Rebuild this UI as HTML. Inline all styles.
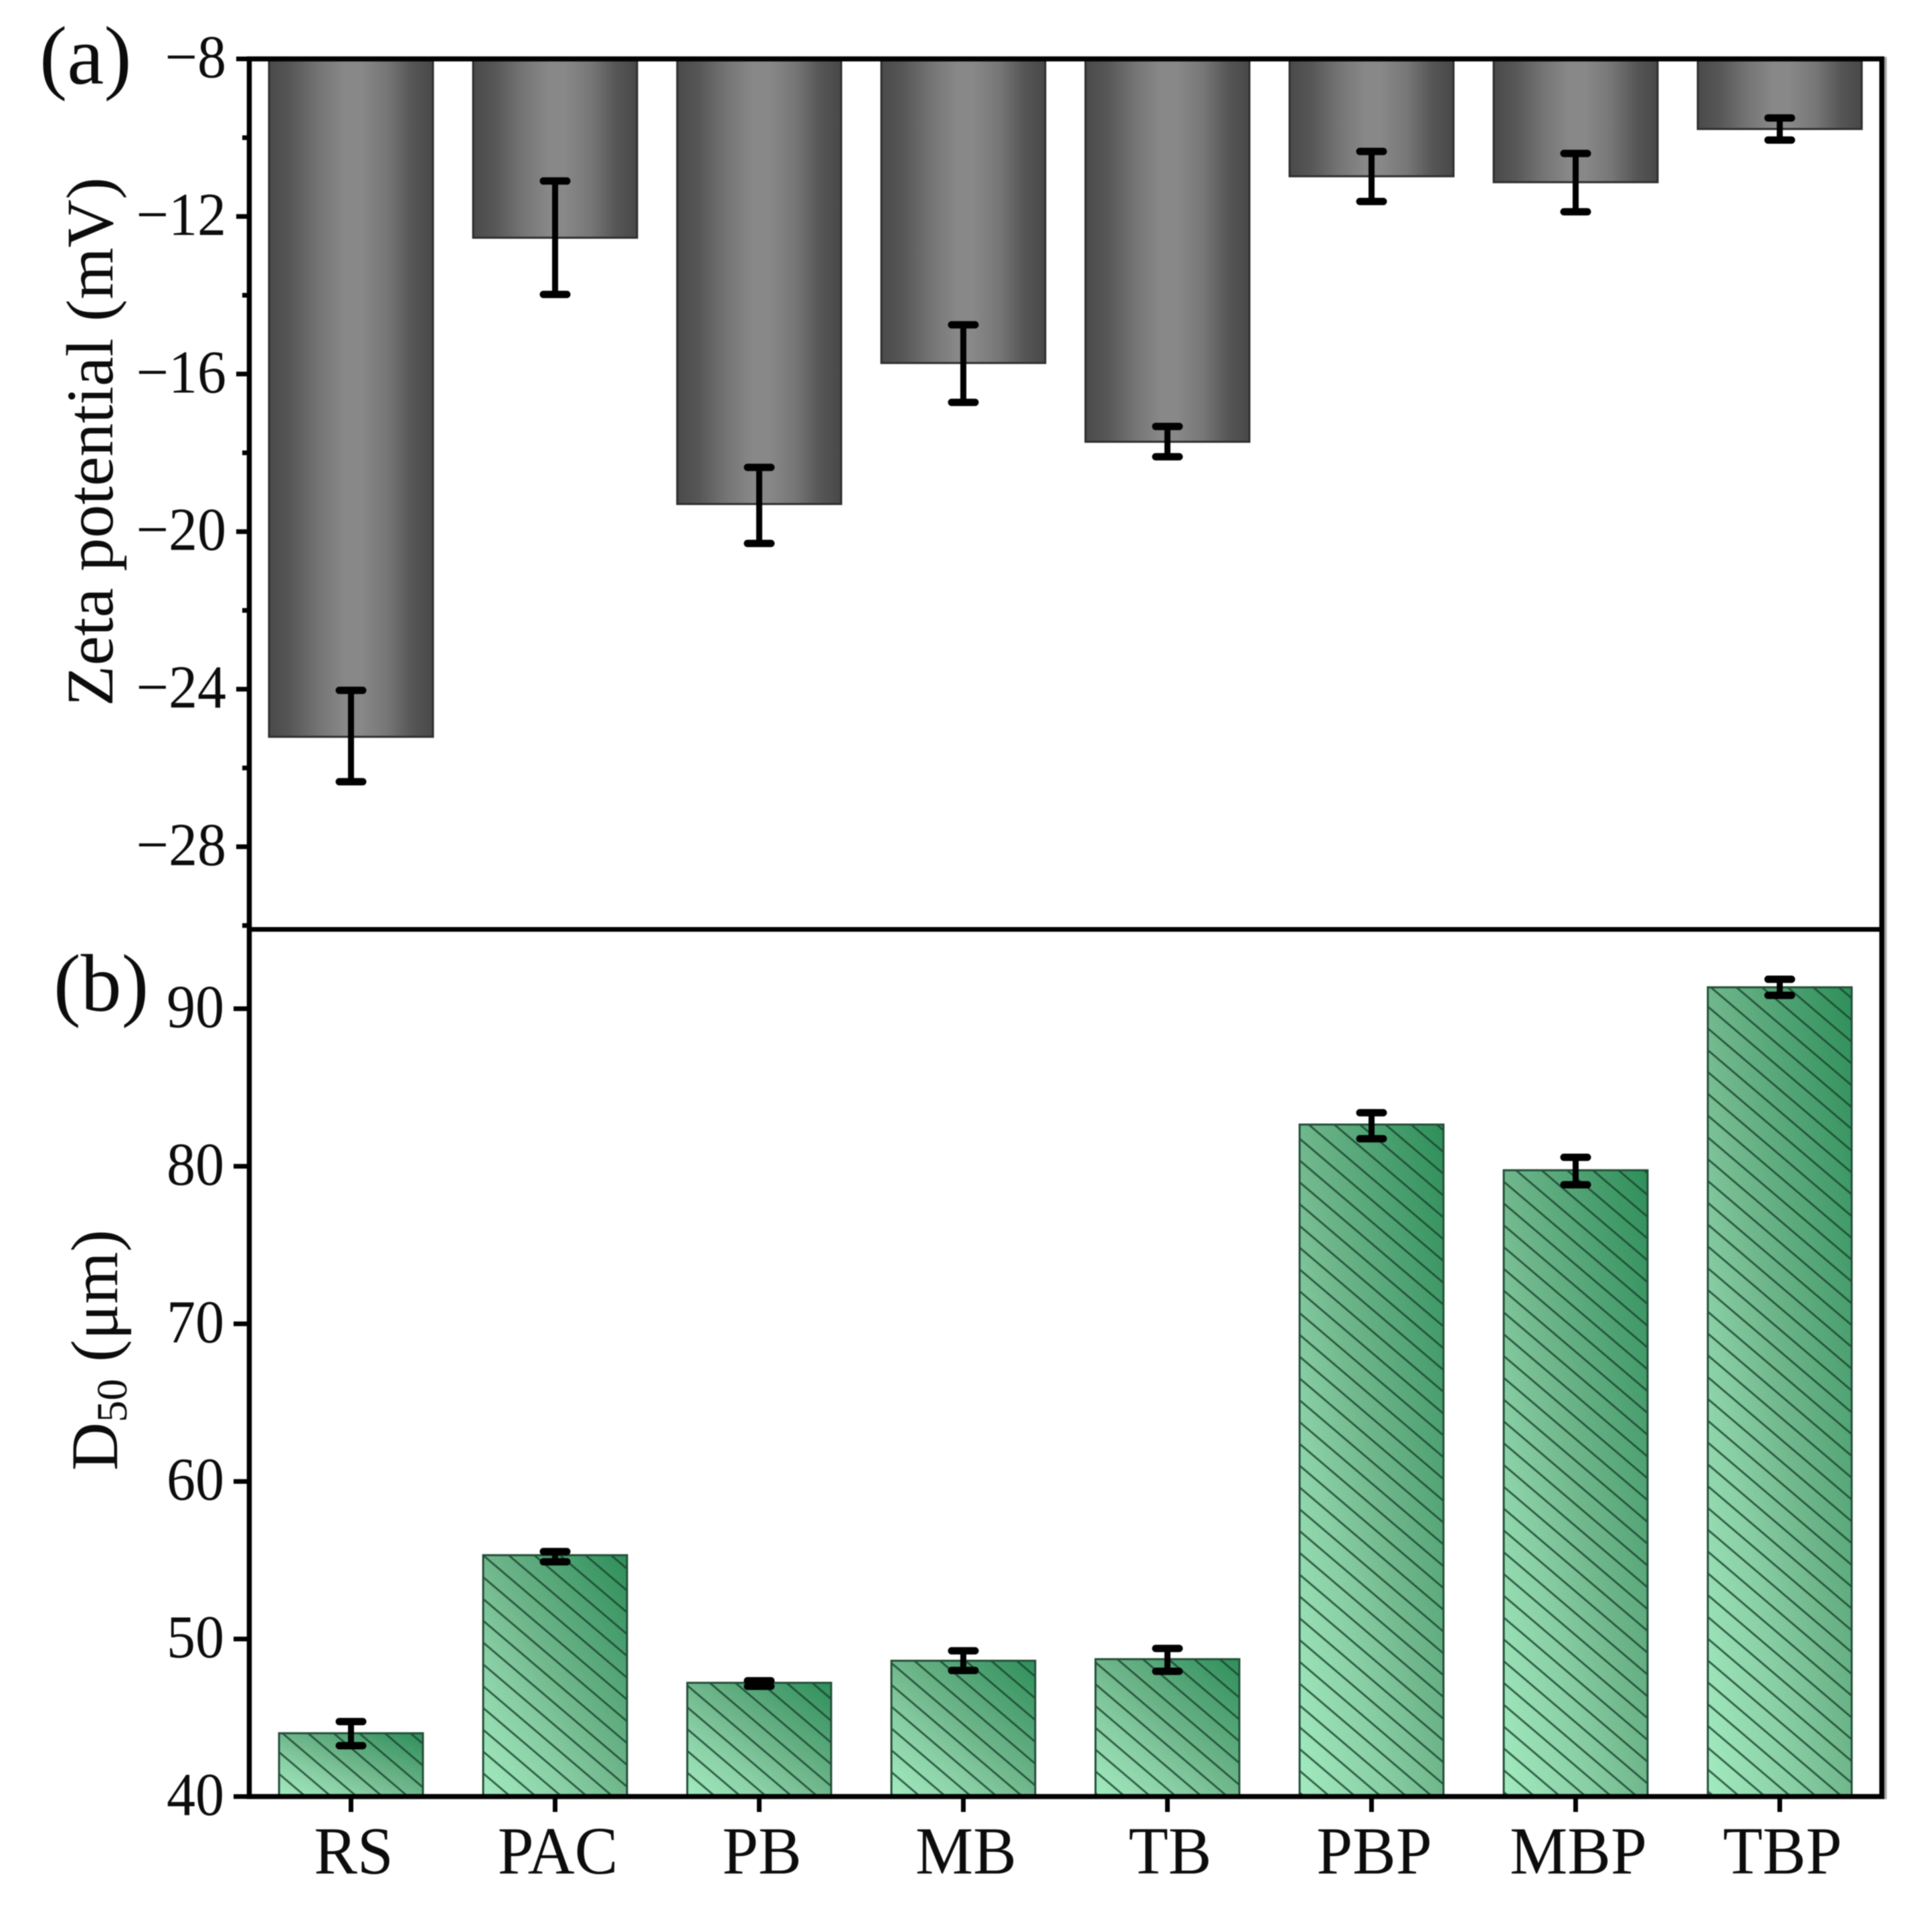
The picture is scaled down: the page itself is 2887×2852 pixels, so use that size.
<!DOCTYPE html>
<html lang="en">
<head>
<meta charset="utf-8">
<title>Zeta potential and D50 bar charts</title>
<style>
html,body{margin:0;padding:0;background:#fff;}
body{width:2887px;height:2852px;overflow:hidden;}
svg{display:block;filter:blur(0.7px);}
text{font-family:"Liberation Serif","Times New Roman",serif;fill:#0c0c0c;}
</style>
</head>
<body>
<svg id="chart" xmlns="http://www.w3.org/2000/svg" width="2887" height="2852" viewBox="0 0 2887 2852">
  <defs>
    <linearGradient id="grayGrad" x1="0" y1="0" x2="1" y2="0">
      <stop offset="0" stop-color="#4a4a4a"/>
      <stop offset="0.13" stop-color="#565656"/>
      <stop offset="0.3" stop-color="#747474"/>
      <stop offset="0.46" stop-color="#888888"/>
      <stop offset="0.56" stop-color="#888888"/>
      <stop offset="0.72" stop-color="#767676"/>
      <stop offset="0.87" stop-color="#565656"/>
      <stop offset="1" stop-color="#484848"/>
    </linearGradient>
    <linearGradient id="greenGrad" x1="0" y1="1" x2="1" y2="0">
      <stop offset="0" stop-color="#a2eabf"/>
      <stop offset="0.3" stop-color="#89cfa5"/>
      <stop offset="0.5" stop-color="#70b78c"/>
      <stop offset="0.75" stop-color="#4fa273"/>
      <stop offset="1" stop-color="#2e8f5a"/>
    </linearGradient>
    <pattern id="hatch" patternUnits="userSpaceOnUse" width="60" height="24.8" patternTransform="rotate(40.4)">
      <line x1="0" y1="12" x2="60" y2="12" stroke="#17402c" stroke-width="2.8" stroke-opacity="0.8"/>
    </pattern>
  </defs>
  <rect x="0" y="0" width="2887" height="2852" fill="#ffffff"/>
  <g id="barsTop"></g>
  <g id="barsBottom"></g>
  <g id="axes"></g>
  <g id="errs"></g>
  <g id="labels"></g>
  <text x="59" y="125" font-size="124">(a)</text>
  <text x="80" y="1510" font-size="122">(b)</text>
  <text transform="translate(168,660) rotate(-90)" text-anchor="middle" font-size="99.5">Zeta potential (mV)</text>
  <text transform="translate(175,2017) rotate(-90)" text-anchor="middle" font-size="100">D<tspan font-size="65" dy="14">50</tspan><tspan dy="-14"> (μm)</tspan></text>
</svg>
<script>
const categories = ['RS', 'PAC', 'PB', 'MB', 'TB', 'PBP', 'MBP', 'TBP'];
const zetaValues = [-25.21, -12.54, -19.3, -15.72, -17.72, -10.98, -11.13, -9.78];
const zetaErrUpper = [-24.03, -11.1, -18.37, -14.75, -17.33, -10.35, -10.4, -9.5];
const zetaErrLower = [-26.35, -13.98, -20.3, -16.72, -18.1, -11.62, -11.88, -10.06];
const d50Values = [44.02, 55.32, 47.22, 48.62, 48.72, 82.65, 79.75, 91.36];
const d50ErrUpper = [44.76, 55.55, 47.35, 49.25, 49.4, 83.4, 80.57, 91.87];
const d50ErrLower = [43.23, 54.9, 47.0, 48.0, 47.95, 81.75, 78.83, 90.85];
const zetaTicks = [-8, -12, -16, -20, -24, -28];
const zetaMinorTicks = [-10, -14, -18, -22, -26, -30];
const d50Ticks = [40, 50, 60, 70, 80, 90];

const NS = 'http://www.w3.org/2000/svg';
const LEFT = 372.5, RIGHT = 2812, TOP = 88, MID = 1388.5, BOTTOM = 2684;
const yZeta = v => TOP + (-8 - v) * 58.85;
const yD50 = v => BOTTOM - (v - 40) * 23.54;
const xCat = i => 524.5 + i * 305;
const ZETA_W = 245, D50_W = 215, CAP = 17.5;

function make(parent, tag, attrs) {
  const el = document.createElementNS(NS, tag);
  for (const k in attrs) el.setAttribute(k, attrs[k]);
  parent.appendChild(el);
  return el;
}
const barsTop = document.getElementById('barsTop');
const barsBottom = document.getElementById('barsBottom');
const axes = document.getElementById('axes');
const errs = document.getElementById('errs');
const labels = document.getElementById('labels');

function errorBar(x, y1, y2) {
  const g = make(errs, 'g', {stroke: '#000', fill: 'none', 'stroke-linecap': 'round'});
  
  
  make(g, 'line', {x1: x, x2: x, y1: y1, y2: y2, 'stroke-width': 9, 'stroke-linecap': 'butt'});
  make(g, 'line', {x1: x - CAP, x2: x + CAP, y1: y1, y2: y1, 'stroke-width': 11});
  make(g, 'line', {x1: x - CAP, x2: x + CAP, y1: y2, y2: y2, 'stroke-width': 11});
}

categories.forEach((name, i) => {
  const cx = xCat(i);
  const yv = yZeta(zetaValues[i]);
  const r = make(barsTop, 'rect', {x: cx - ZETA_W / 2, y: TOP, width: ZETA_W, height: yv - TOP, fill: 'url(#grayGrad)', stroke: '#2e2e2e', 'stroke-width': 3});
  
  
  errorBar(cx, yZeta(zetaErrUpper[i]), yZeta(zetaErrLower[i]));

  const yd = yD50(d50Values[i]);
  const g = make(barsBottom, 'g', {});
  
  
  make(g, 'rect', {x: cx - D50_W / 2, y: yd, width: D50_W, height: BOTTOM - yd, fill: 'url(#greenGrad)'});
  make(g, 'rect', {x: cx - D50_W / 2, y: yd, width: D50_W, height: BOTTOM - yd, fill: 'url(#hatch)', stroke: '#234f38', 'stroke-width': 3});
  errorBar(cx, yD50(d50ErrUpper[i]), yD50(d50ErrLower[i]));

  const tick = make(axes, 'line', {x1: cx, x2: cx, y1: BOTTOM, y2: 2707, stroke: '#000', 'stroke-width': 7});
  
  
  const t = make(labels, 'text', {transform: 'translate(' + (cx + 4) + ',2799) scale(1,1.04)', 'text-anchor': 'middle', 'font-size': 97});
  
  
  t.textContent = name;
});

zetaTicks.forEach(v => {
  const y = yZeta(v);
  const tick = make(axes, 'line', {x1: 353, x2: LEFT, y1: y, y2: y, stroke: '#000', 'stroke-width': 7});
  
  
  const t = make(labels, 'text', {transform: 'translate(338,' + (y + 27.5) + ') scale(1,1.06)', 'text-anchor': 'end', 'font-size': 86});
  
  
  t.textContent = '\u2212' + Math.abs(v);
});
zetaMinorTicks.forEach(v => {
  const y = yZeta(v);
  const tick = make(axes, 'line', {x1: 362, x2: LEFT, y1: y, y2: y, stroke: '#000', 'stroke-width': 7});
  
  
});
d50Ticks.forEach(v => {
  const y = yD50(v);
  const tick = make(axes, 'line', {x1: 349, x2: LEFT, y1: y, y2: y, stroke: '#000', 'stroke-width': 7});
  
  
  const t = make(labels, 'text', {transform: 'translate(335,' + (y + 27.5) + ') scale(1,1.06)', 'text-anchor': 'end', 'font-size': 86});
  
  
  t.textContent = String(v);
});

const shade = make(axes, 'line', {x1: RIGHT + 5.5, x2: RIGHT + 5.5, y1: TOP - 3, y2: BOTTOM + 4, stroke: '#a8a8a8', 'stroke-width': 4});


const frame = make(axes, 'rect', {x: LEFT, y: TOP, width: RIGHT - LEFT, height: BOTTOM - TOP, fill: 'none', stroke: '#000', 'stroke-width': 7.5});


const divider = make(axes, 'line', {x1: LEFT, x2: RIGHT, y1: MID, y2: MID, stroke: '#000', 'stroke-width': 7});


</script>
</body>
</html>
